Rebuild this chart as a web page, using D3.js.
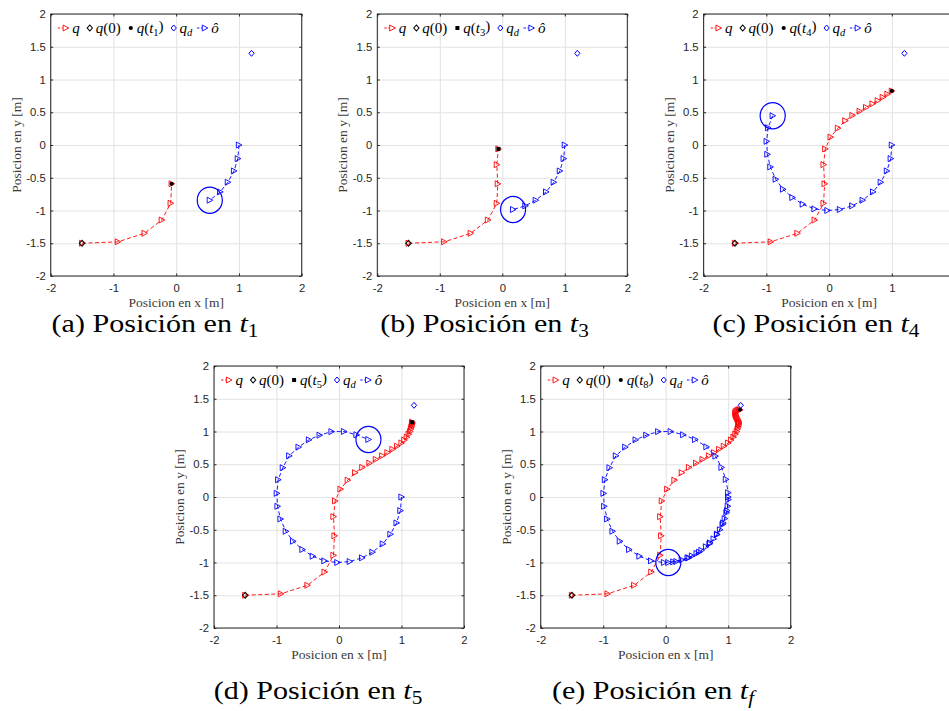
<!DOCTYPE html>
<html>
<head>
<meta charset="utf-8">
<script src="https://cdn.jsdelivr.net/npm/d3@7"></script>
<style>
  body { margin: 0; background: #fff; }
  svg { display: block; }
</style>
</head>
<body>
<svg id="fig" width="949" height="711"></svg>
<script>
// Robot position q over the whole run [m]
const qX = [-1.5, -0.93, -0.505, -0.23, -0.088, -0.072, -0.088, -0.062,
            0.024, 0.14, 0.258, 0.373, 0.487, 0.59, 0.692, 0.775, 0.855, 0.93, 1.0,
            1.045, 1.085, 1.115, 1.138, 1.152, 1.161, 1.167, 1.17, 1.172, 1.172,
            1.165, 1.155, 1.145, 1.135, 1.125, 1.118, 1.115, 1.12, 1.135, 1.155, 1.175, 1.19];
const qY = [-1.5, -1.478, -1.348, -1.145, -0.89, -0.592, -0.30, -0.06,
            0.12, 0.257, 0.371, 0.452, 0.516, 0.574, 0.629, 0.678, 0.728, 0.776, 0.825,
            0.87, 0.915, 0.96, 1.0, 1.04, 1.07, 1.095, 1.115, 1.13, 1.142,
            1.16, 1.18, 1.2, 1.22, 1.24, 1.26, 1.28, 1.3, 1.315, 1.325, 1.33, 1.332];

// Estimated obstacle position ô over the whole run [m]
const oX = [1.0, 0.982, 0.921, 0.823, 0.701, 0.535, 0.369, 0.172,
            -0.027, -0.234, -0.42, -0.585, -0.734, -0.851, -0.936, -0.984, -0.995, -0.973, -0.899,
            -0.797, -0.647, -0.481, -0.31, -0.12, 0.08, 0.28, 0.471,
            0.652, 0.797, 0.893, 0.963, 1.0, 1.003, 0.993, 0.972, 0.945, 0.91, 0.868, 0.82,
            0.767, 0.71, 0.645, 0.572, 0.495, 0.42, 0.35, 0.257, 0.122, 0.042];
const oY = [0.0, -0.208, -0.396, -0.569, -0.716, -0.843, -0.929, -0.985,
            -1.0, -0.975, -0.904, -0.802, -0.675, -0.523, -0.335, -0.142, 0.056, 0.264, 0.447,
            0.629, 0.761, 0.873, 0.944, 0.998, 1.0, 0.95, 0.878,
            0.766, 0.624, 0.452, 0.269, 0.066, -0.04, -0.14, -0.24, -0.33, -0.42, -0.5, -0.575,
            -0.64, -0.7, -0.76, -0.815, -0.862, -0.9, -0.93, -0.96, -0.99, -1.0];

const q0 = [-1.5, -1.5];          // initial position
const qd = [1.2, 1.4];            // desired position
const obstacleRadius = 0.2;       // radius drawn around ô

const xTicks = [-2, -1, 0, 1, 2];
const yTicks = [-2, -1.5, -1, -0.5, 0, 0.5, 1, 1.5, 2];

// One panel per snapshot of the run
const panelTags   = ["a", "b", "c", "d", "e"];
const captionSub  = ["1", "3", "4", "5", "f"];
const legendSub   = ["1", "3", "4", "5", "8"];
const qCount      = [6, 8, 19, 29, 41];
const oCount      = [6, 8, 19, 27, 49];

// Panel placement on the page
const layout = [
  { l: 50.7,  t: 14,  w: 251, h: 262, capX: 155,   capY: 331.5, mark: "dot" },
  { l: 377.3, t: 14,  w: 250, h: 262, capX: 484.5, capY: 331.5, mark: "square" },
  { l: 703.6, t: 14,  w: 251, h: 262, capX: 816,   capY: 331.5, mark: "dot" },
  { l: 214,   t: 366, w: 250, h: 262, capX: 318,   capY: 699,   mark: "square" },
  { l: 540.7, t: 366, w: 250, h: 262, capX: 653,   capY: 699,   mark: "dot" }
];
const PAGE_W = 949;

const RED = "#ff0000", BLUE = "#0000ff", INK = "#262626";
const mathFont = "'Liberation Serif', 'Times New Roman', serif";
const tickFont = "'Liberation Sans', Arial, Helvetica, sans-serif";

const triPath = "M-2.6,-3L3,0L-2.6,3Z";
const diaPath = "M0,-3L2.6,0L0,3L-2.6,0Z";

const svg = d3.select("#fig");
const line = d3.line();

function drawMarks(g, pts, color, path) {
  g.selectAll(null).data(pts).join("path")
    .attr("d", path)
    .attr("transform", d => `translate(${d[0]},${d[1]})`)
    .attr("fill", "none")
    .attr("stroke", color)
    .attr("stroke-width", 0.9);
}

function drawQtMark(g, cx, cy, kind) {
  if (kind === "square") {
    g.append("rect").attr("x", cx - 2).attr("y", cy - 2)
      .attr("width", 4).attr("height", 4).attr("fill", "#000");
  } else {
    g.append("circle").attr("cx", cx).attr("cy", cy).attr("r", 2.1).attr("fill", "#000");
  }
}

layout.forEach((p, i) => {
  const x = d3.scaleLinear().domain([-2, 2]).range([p.l, p.l + p.w]);
  const y = d3.scaleLinear().domain([-2, 2]).range([p.t + p.h, p.t]);
  const g = svg.append("g").attr("class", "panel-" + panelTags[i]);

  // grid
  g.append("g")
    .attr("transform", `translate(0,${p.t + p.h})`)
    .call(d3.axisBottom(x).tickValues(xTicks).tickSize(-p.h).tickFormat(""))
    .call(s => { s.select(".domain").remove(); s.selectAll("line").attr("stroke", "#e2e2e2").attr("stroke-width", 1); });
  g.append("g")
    .attr("transform", `translate(${p.l},0)`)
    .call(d3.axisLeft(y).tickValues(yTicks).tickSize(-p.w).tickFormat(""))
    .call(s => { s.select(".domain").remove(); s.selectAll("line").attr("stroke", "#e2e2e2").attr("stroke-width", 1); });

  // box
  g.append("rect")
    .attr("x", p.l).attr("y", p.t).attr("width", p.w).attr("height", p.h)
    .attr("fill", "none").attr("stroke", INK).attr("stroke-width", 1);

  // axes with inward ticks
  const styleAxis = s => {
    s.select(".domain").remove();
    s.selectAll("line").attr("stroke", INK);
    s.selectAll("text").attr("fill", INK).style("font-family", tickFont).style("font-size", "11.3px");
  };
  const xAxis = g.append("g")
    .attr("transform", `translate(0,${p.t + p.h})`)
    .call(d3.axisBottom(x).tickValues(xTicks).tickSize(-2.5).tickPadding(8).tickFormat(d => String(d)))
    .call(styleAxis);
  // labels that fall past the page edge are not shown
  xAxis.selectAll(".tick").filter(d => x(d) + 4 > PAGE_W).select("text").remove();
  g.append("g")
    .attr("transform", `translate(${p.l},0)`)
    .call(d3.axisLeft(y).tickValues(yTicks).tickSize(-2.5).tickPadding(5).tickFormat(d => String(d)))
    .call(styleAxis);
  g.append("g")
    .attr("transform", `translate(0,${p.t})`)
    .call(d3.axisTop(x).tickValues(xTicks).tickSize(-2.5).tickFormat(""))
    .call(styleAxis);
  g.append("g")
    .attr("transform", `translate(${p.l + p.w},0)`)
    .call(d3.axisRight(y).tickValues(yTicks).tickSize(-2.5).tickFormat(""))
    .call(styleAxis);

  // axis labels
  g.append("text")
    .attr("x", p.l + p.w / 2).attr("y", p.t + p.h + 30.5)
    .attr("text-anchor", "middle")
    .style("font-family", mathFont).style("font-size", "13.5px").attr("fill", "#3a3a3a")
    .text("Posicion en x [m]");
  g.append("text")
    .attr("transform", `translate(${p.l - 30},${p.t + p.h / 2}) rotate(-90)`)
    .attr("text-anchor", "middle")
    .style("font-family", mathFont).style("font-size", "13.5px").attr("fill", "#3a3a3a")
    .text("Posicion en y [m]");

  // robot trajectory q
  const qPts = d3.range(qCount[i]).map(k => [x(qX[k]), y(qY[k])]);
  g.append("path").attr("d", line(qPts))
    .attr("fill", "none").attr("stroke", RED).attr("stroke-width", 0.9)
    .attr("stroke-dasharray", "4,2.5");
  drawMarks(g, qPts, RED, triPath);

  // q(0)
  g.append("path").attr("d", diaPath)
    .attr("transform", `translate(${x(q0[0])},${y(q0[1])})`)
    .attr("fill", "none").attr("stroke", "#000").attr("stroke-width", 1.1);

  // q(t_k)
  const last = qPts[qPts.length - 1];
  drawQtMark(g, last[0], last[1], p.mark);

  // q_d
  g.append("path").attr("d", diaPath)
    .attr("transform", `translate(${x(qd[0])},${y(qd[1])})`)
    .attr("fill", "none").attr("stroke", BLUE).attr("stroke-width", 1);

  // estimated obstacle ô
  const oPts = d3.range(oCount[i]).map(k => [x(oX[k]), y(oY[k])]);
  g.append("path").attr("d", line(oPts))
    .attr("fill", "none").attr("stroke", BLUE).attr("stroke-width", 0.9)
    .attr("stroke-dasharray", "4,2.5");
  drawMarks(g, oPts, BLUE, triPath);

  // obstacle circle around the current estimate
  const oc = oCount[i] - 1;
  g.append("ellipse")
    .attr("cx", x(oX[oc])).attr("cy", y(oY[oc]))
    .attr("rx", x(obstacleRadius) - x(0)).attr("ry", y(0) - y(obstacleRadius))
    .attr("fill", "none").attr("stroke", BLUE).attr("stroke-width", 1.2);

  // legend
  const lg = g.append("g");
  const ly = p.t + 14;
  let cx = p.l + 7;
  const addText = (parts) => {
    const t = lg.append("text").attr("x", cx).attr("y", ly + 4.8)
      .style("font-family", mathFont).style("font-size", "15px").attr("fill", "#000");
    parts.forEach(pt => {
      const s = t.append("tspan").text(pt.s);
      if (pt.it) s.style("font-style", "italic");
      if (pt.sub) s.attr("dy", "0.3em").style("font-size", "10.5px");
      if (pt.up) s.attr("dy", "-0.3em");
    });
    cx += t.node().getComputedTextLength() + 7.5;
  };
  const addLineIcon = (color) => {
    lg.append("line").attr("x1", cx).attr("x2", cx + 5).attr("y1", ly).attr("y2", ly)
      .attr("stroke", color).attr("stroke-width", 0.9).attr("stroke-dasharray", "2.5,1.5");
    lg.append("path").attr("d", triPath).attr("transform", `translate(${cx + 8},${ly})`)
      .attr("fill", "none").attr("stroke", color).attr("stroke-width", 0.9);
    cx += 14.5;
  };
  const addMarkIcon = (draw) => { draw(cx + 2.6, ly); cx += 8.5; };

  addLineIcon(RED);
  addText([{ s: "q", it: true }]);
  addMarkIcon((a, b) => lg.append("path").attr("d", diaPath).attr("transform", `translate(${a},${b})`)
    .attr("fill", "none").attr("stroke", "#000").attr("stroke-width", 1.1));
  addText([{ s: "q", it: true }, { s: "(0)" }]);
  addMarkIcon((a, b) => drawQtMark(lg, a, b, p.mark));
  addText([{ s: "q", it: true }, { s: "(" }, { s: "t", it: true }, { s: legendSub[i], sub: true }, { s: ")", up: true }]);
  addMarkIcon((a, b) => lg.append("path").attr("d", diaPath).attr("transform", `translate(${a},${b})`)
    .attr("fill", "none").attr("stroke", BLUE).attr("stroke-width", 1));
  addText([{ s: "q", it: true }, { s: "d", it: true, sub: true }]);
  cx -= 3;
  addLineIcon(BLUE);
  addText([{ s: "ô", it: true }]);

  // caption, set slightly wide
  const cap = svg.append("text")
    .attr("transform", `translate(${p.capX},${p.capY}) scale(1.18,1)`)
    .attr("text-anchor", "middle")
    .style("font-family", mathFont).style("font-size", "25.5px").attr("fill", "#000");
  cap.append("tspan").text(`(${panelTags[i]}) Posición en `);
  cap.append("tspan").text("t").style("font-style", "italic");
  const sub = cap.append("tspan").text(captionSub[i]).attr("dy", "0.28em").style("font-size", "18px");
  if (captionSub[i] === "f") sub.style("font-style", "italic");
});
</script>
</body>
</html>
